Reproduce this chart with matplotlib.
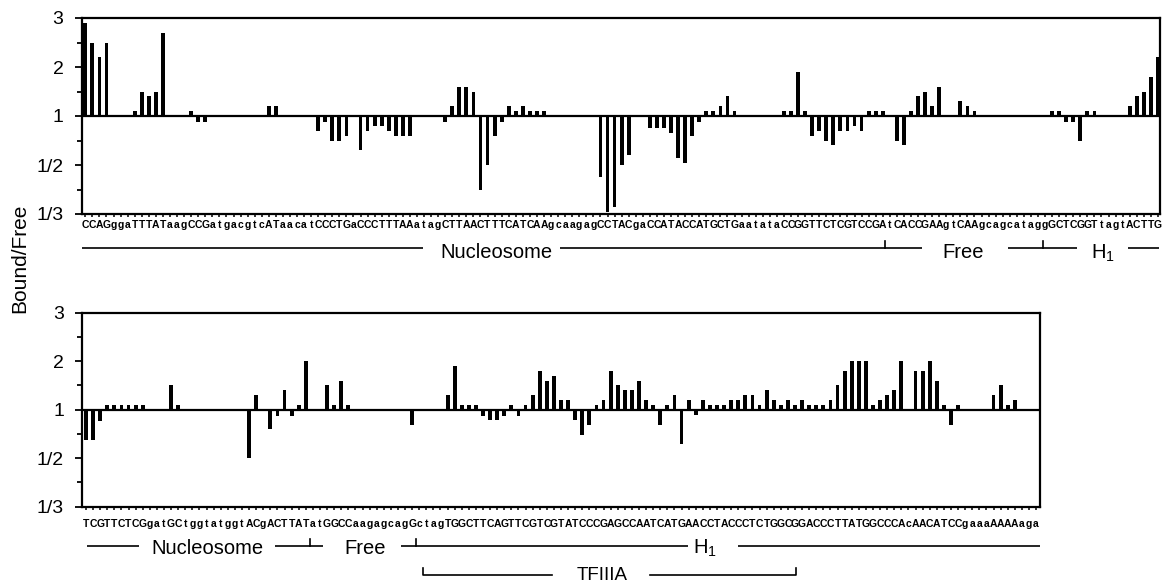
import matplotlib
matplotlib.use('Agg')
import matplotlib.pyplot as plt
import matplotlib.transforms as mtransforms
import numpy as np

plt.rcParams['font.family'] = ['Liberation Sans', 'DejaVu Sans']
plt.rcParams['mathtext.fontset'] = 'custom'
plt.rcParams['mathtext.rm'] = 'Liberation Sans'

# ---------------- data ----------------
top_seq = ("CCAGggaTTTATaagCCGatgacgtcATaacatCCCTGaCCCTTTAAatagCTTAACTTTCATCAA"
           "gcaagagCCTACgaCCATACCATGCTGaatataCCGGTTCTCGTCCGAtCACCGAAgtCAAgcagcat"
           "aggGCTCGGTtagtACTTG")
bottom_seq = ("TCGTTCTCGgatGCtggtatggtACgACTTATatGGCCaagagcagGctagTGGCTTCAGTTCGTCG"
              "TATCCCGAGCCAATCATGAACCTACCCTCTGGCGGACCCTTATGGCCCAcAACATCCgaaaAAAAaga")

# bar heights on the symmetric fold scale: +1 = 2-fold up (2), -1 = 2-fold down (1/2)
top_values = [
    1.9, 1.5, 1.2, 1.5, 0, 0, 0, 0.1, 0.5, 0.4,
    0.5, 1.7, 0, 0, 0, 0.1, -0.12, -0.12, 0, 0,
    0, 0, 0, 0, 0, 0, 0.2, 0.2, 0, 0,
    0, 0, 0, -0.3, -0.12, -0.5, -0.5, -0.4, 0, -0.7,
    -0.3, -0.2, -0.2, -0.3, -0.4, -0.4, -0.4, 0, 0, 0,
    0, -0.12, 0.2, 0.6, 0.6, 0.5, -1.5, -1.0, -0.4, -0.12,
    0.2, 0.1, 0.2, 0.1, 0.1, 0.1, 0, 0, 0, 0,
    0, 0, 0, -1.25, -1.95, -1.85, -1.0, -0.8, 0, 0,
    -0.25, -0.25, -0.25, -0.35, -0.85, -0.95, -0.4, -0.12, 0.1, 0.1,
    0.2, 0.4, 0.1, 0, 0, 0, 0, 0, 0, 0.1,
    0.1, 0.9, 0.1, -0.4, -0.3, -0.5, -0.6, -0.3, -0.3, -0.2,
    -0.3, 0.1, 0.1, 0.1, 0, -0.5, -0.6, 0.1, 0.4, 0.5,
    0.2, 0.6, 0, 0, 0.3, 0.2, 0.1, 0, 0, 0,
    0, 0, 0, 0, 0, 0, 0, 0.1, 0.1, -0.12,
    -0.12, -0.5, 0.1, 0.1, 0, 0, 0, 0, 0.2, 0.4,
    0.5, 0.8, 1.2,
]
bottom_values = [
    -0.63, -0.63, -0.24, 0.1, 0.1, 0.1, 0.1, 0.1, 0.1, 0,
    0, 0, 0.5, 0.1, 0, 0, 0, 0, 0, 0,
    0, 0, 0, -1.0, 0.3, 0, -0.4, -0.12, 0.4, -0.12,
    0.1, 1.0, 0, 0, 0.5, 0.1, 0.6, 0.1, 0, 0,
    0, 0, 0, 0, 0, 0, -0.32, 0, 0, 0,
    0, 0.3, 0.9, 0.1, 0.1, 0.1, -0.12, -0.22, -0.22, -0.12,
    0.1, -0.12, 0.1, 0.3, 0.8, 0.6, 0.7, 0.2, 0.2, -0.22,
    -0.52, -0.31, 0.1, 0.2, 0.8, 0.5, 0.4, 0.4, 0.6, 0.2,
    0.1, -0.31, 0.1, 0.3, -0.7, 0.2, -0.1, 0.2, 0.1, 0.1,
    0.1, 0.2, 0.2, 0.3, 0.3, 0.1, 0.4, 0.2, 0.1, 0.2,
    0.1, 0.2, 0.1, 0.1, 0.1, 0.2, 0.5, 0.8, 1.0, 1.0,
    1.0, 0.1, 0.2, 0.3, 0.4, 1.0, 0, 0.8, 0.8, 1.0,
    0.6, 0.1, -0.31, 0.1, 0, 0, 0, 0, 0.3, 0.5,
    0.1, 0.2, 0, 0, 0,
]
ytick_pos = [-2, -1, 0, 1, 2]
ytick_labels = ["1/3", "1/2", "1", "2", "3"]

# region annotations (positions in nucleotide units)
top_labels = [("Nucleosome", 58.2), ("Free", 124.4), (r"$\mathregular{H_1}$", 144.2)]
top_segments = [(-0.4, 47.8), (67.3, 118.5), (130.8, 140.5), (147.8, 152.1)]
top_marks = [113.3, 135.7]
bottom_labels = [("Nucleosome", 17.1), ("Free", 39.4), (r"$\mathregular{H_1}$", 87.3)]
bottom_segments = [(0.14, 7.5), (26.7, 33.4), (44.5, 84.9), (92.0, 134.55)]
bottom_marks = [31.6, 46.6]
tf_label = ("TFIIIA", 72.8)
tf_span = (47.6, 100.2)
tf_gap = (65.7, 79.5)

# ---------------- figure ----------------
W, H = 1162, 584
fig = plt.figure(figsize=(W / 100, H / 100), dpi=100)


def fx(p):
    return p / W


def fy(p):
    return 1 - p / H


ax1 = fig.add_axes([fx(81.5), fy(214), fx(1160 - 81.5), (214 - 18) / H])
ax2 = fig.add_axes([fx(82), fy(506.7), fx(1040 - 82), (506.7 - 312.7) / H])


def setup(ax, seq, values, xlim, seq_base, track_y, segments, marks, labels, label_base):
    n = len(seq)
    x = np.arange(n)
    ax.bar(x, values, width=0.54, color='black', linewidth=0)
    ax.axhline(0, color='black', lw=1.6)
    ax.set_xlim(*xlim)
    ax.set_ylim(-2, 2)
    ax.set_yticks(ytick_pos)
    ax.set_yticklabels(ytick_labels)
    ax.set_yticks([-1.5, -0.5, 0.5, 1.5], minor=True)
    ax.set_xticks(x)
    ax.set_xticklabels([])
    ax.tick_params(axis='x', length=2.5, width=1.1, direction='out')
    ax.tick_params(axis='y', which='major', length=5, width=1.3, pad=8, labelsize=14)
    ax.tick_params(axis='y', which='minor', length=3.5, width=1.3)
    for s in ax.spines.values():
        s.set_linewidth(1.6)
    trans = mtransforms.blended_transform_factory(ax.transData, fig.transFigure)
    for i, ch in enumerate(seq):
        ax.text(i, fy(seq_base), ch, transform=trans, ha='center', va='baseline',
                fontsize=7.5, fontweight='bold', clip_on=False)
    for x0, x1 in segments:
        ax.plot([x0, x1], [fy(track_y)] * 2, transform=trans, color='black',
                lw=1.2, clip_on=False, solid_capstyle='butt')
    for m in marks:
        ax.plot([m, m], [fy(track_y), fy(track_y - 7.5)], transform=trans,
                color='black', lw=1.2, clip_on=False)
    for txt, xp in labels:
        ax.text(xp, fy(label_base), txt, transform=trans, ha='center', va='baseline',
                fontsize=14.5, clip_on=False)
    return trans


setup(ax1, top_seq, top_values, (-0.54, 152.29), 228.3, 248,
      top_segments, top_marks, top_labels, 258.3)
trans2 = setup(ax2, bottom_seq, bottom_values, (-0.56, 134.55), 526.7, 546,
               bottom_segments, bottom_marks, bottom_labels, 553.5)

# TFIIIA bracket
ty = 575
ax2.plot([tf_span[0], tf_span[0], tf_gap[0]], [fy(ty - 7.5), fy(ty), fy(ty)],
         transform=trans2, color='black', lw=1.2, clip_on=False)
ax2.plot([tf_gap[1], tf_span[1], tf_span[1]], [fy(ty), fy(ty), fy(ty - 7.5)],
         transform=trans2, color='black', lw=1.2, clip_on=False)
ax2.text(tf_label[1], fy(583.5), tf_label[0], transform=trans2, ha='center',
         va='bottom', fontsize=13.5, clip_on=False)

fig.text(fx(20), fy(258), "Bound/Free", rotation=90, ha='center', va='center',
         fontsize=15)

fig.savefig("out.png", dpi=100)
